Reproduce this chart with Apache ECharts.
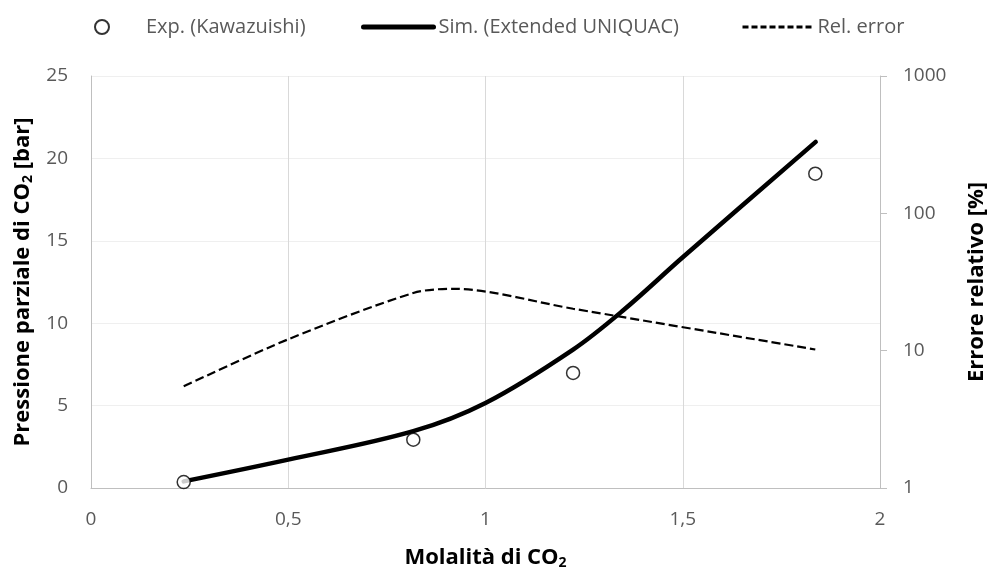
<!DOCTYPE html>
<html>
<head>
<meta charset="utf-8">
<script src="https://cdn.jsdelivr.net/npm/echarts@6/dist/echarts.min.js"></script>
<style>
html, body { margin: 0; padding: 0; background: #fff; }
#chart { width: 989px; height: 576px; }
</style>
</head>
<body>
<div id="chart"></div>
<script>
// dati
var expMolality = [0.235, 0.817, 1.222, 1.836];
var expPressure = [0.36, 2.93, 6.98, 19.07];

var simMolality = [0.235, 0.5, 0.817, 1.0, 1.222, 1.35, 1.5, 1.837];
var simPressure = [0.4, 1.72, 3.45, 5.16, 8.4, 10.8, 14.0, 21.0];

var errMolality = [0.235, 0.5, 0.817, 0.92, 1.222, 1.836];
var errPercent = [5.5, 12.1, 26.3, 28.2, 20.2, 10.2];

var seriesNames = ['Exp. (Kawazuishi)', 'Sim. (Extended UNIQUAC)', 'Rel. error'];

function pairs(xs, ys) {
	var out = [];
	for (var i = 0; i < xs.length; i++) {
		out.push([xs[i], ys[i]]);
	}
	return out;
}

var font = 'Open Sans';
var grey = '#595959';

// una legenda per voce, per piazzarle come nell'originale
var legendLeft = [89, 356, 736];
var legendItems = [
	{ name : seriesNames[0], itemStyle : { borderWidth : 2 } },
	{ name : seriesNames[1], itemStyle : { opacity : 0 }, lineStyle : { width : 5 } },
	{ name : seriesNames[2], itemStyle : { opacity : 0 }, lineStyle : { width : 3, type : [6, 3] } }
];
var legends = [];
for (var i = 0; i < legendItems.length; i++) {
	legends.push({
		top : 12,
		left : legendLeft[i],
		itemWidth : 70,
		itemHeight : 14,
		textStyle : {
			fontFamily : font, fontSize : 20, color : grey,
			padding : i == 0 ? [0, 0, 0, 4] : 0
		},
		data : [legendItems[i]]
	});
}

var subRich = { sub : { fontFamily : font, fontSize : 14, fontWeight : 'bold', color : '#000', verticalAlign : 'bottom', padding : [10, 0, 0, 0] } };

var myChart = echarts.init(document.getElementById('chart'));

var option = {
	backgroundColor : '#fff',
	animation : false,
	textStyle : { fontFamily : font },
	legend : legends,
	grid : {
		left : 91,
		right : 109,
		top : 76,
		bottom : 88,
		outerBoundsMode : 'none'
	},
	xAxis : {
		type : 'value',
		min : 0,
		max : 2,
		interval : 0.5,
		name : 'Molalità di CO{sub|2}',
		nameLocation : 'middle',
		nameGap : 58,
		nameTextStyle : { fontFamily : font, fontSize : 22, fontWeight : 'bold', color : '#000', rich : subRich },
		axisLine : { lineStyle : { color : '#bfbfbf', width : 1 } },
		axisTick : { show : false },
		axisLabel : {
			margin : 22,
			fontSize : 19,
			color : grey,
			formatter : function(v) { return String(v).replace('.', ','); }
		},
		splitLine : { lineStyle : { color : '#d9d9d9', width : 1 } }
	},
	yAxis : [{
		type : 'value',
		min : 0,
		max : 25,
		interval : 5,
		name : 'Pressione parziale di CO{sub|2} [bar]',
		nameLocation : 'middle',
		nameRotate : 90,
		nameGap : 56,
		nameTextStyle : { fontFamily : font, fontSize : 22, fontWeight : 'bold', color : '#000', rich : subRich },
		axisLine : { show : true, lineStyle : { color : '#bfbfbf', width : 1 } },
		axisTick : { show : false },
		axisLabel : { margin : 23, fontSize : 19, color : grey },
		splitLine : { lineStyle : { color : '#efefef', width : 1 } }
	}, {
		type : 'log',
		logBase : 10,
		min : 1,
		max : 1000,
		position : 'right',
		name : 'Errore relativo [%]',
		nameLocation : 'middle',
		nameRotate : 90,
		nameGap : 86,
		nameTextStyle : { fontFamily : font, fontSize : 22, fontWeight : 'bold', color : '#000' },
		axisLine : { show : true, lineStyle : { color : '#bfbfbf', width : 1 } },
		axisTick : { show : true, length : 7, lineStyle : { color : '#bfbfbf' } },
		axisLabel : {
			margin : 23,
			fontSize : 19,
			color : grey,
			formatter : function(v) { return String(v); }
		},
		splitLine : { show : false }
	}],
	series : [{
		name : seriesNames[1],
		type : 'line',
		yAxisIndex : 0,
		smooth : 0.35,
		symbol : 'none',
		lineStyle : { color : '#000', width : 4.5, cap : 'round' },
		itemStyle : { color : '#000' },
		data : pairs(simMolality, simPressure),
		z : 3
	}, {
		name : seriesNames[2],
		type : 'line',
		yAxisIndex : 1,
		smooth : 0.3,
		symbol : 'none',
		lineStyle : { color : '#000', width : 2.2, type : [9, 4] },
		itemStyle : { color : '#000' },
		data : pairs(errMolality, errPercent),
		z : 3
	}, {
		name : seriesNames[0],
		type : 'scatter',
		yAxisIndex : 0,
		symbol : 'circle',
		symbolSize : 13,
		itemStyle : { color : '#fff', borderColor : '#000', borderWidth : 1.5 },
		data : pairs(expMolality, expPressure),
		z : 5
	}]
};
myChart.setOption(option);
</script>
</body>
</html>
